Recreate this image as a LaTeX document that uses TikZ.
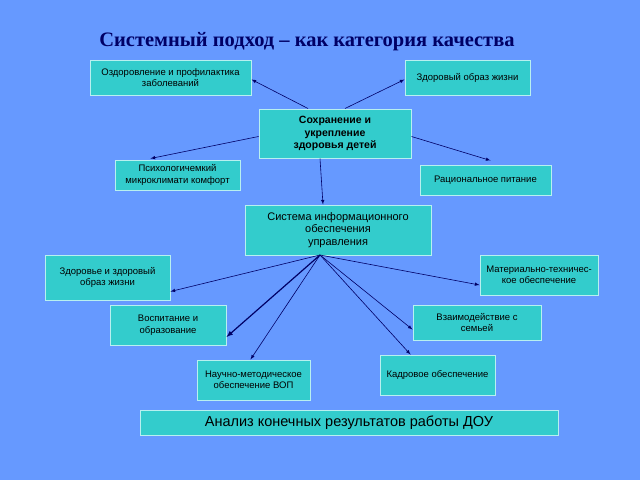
\documentclass[tikz,border=0pt]{standalone}
\usepackage{fontspec}
\setmainfont{Liberation Sans}
\newfontfamily\titlefont{Liberation Serif}
\definecolor{bg}{HTML}{6699FF}
\definecolor{boxc}{HTML}{33CCCC}
\definecolor{edgec}{HTML}{B8F0F0}
\definecolor{navy}{HTML}{000066}
\begin{document}
\begin{tikzpicture}[x=1pt,y=-1pt,
  bx/.style={draw=edgec,line width=1pt,fill=boxc,inner sep=1pt,align=center,font=\fontsize{9.5}{11.5}\selectfont},
  ar/.style={draw=navy,-latex,line width=0.6pt}]
\fill[bg] (0,0) rectangle (640,480);
\useasboundingbox (0,0) rectangle (640,480);
\node[font=\titlefont\bfseries\fontsize{20.5}{22}\selectfont,text=navy] (T) at (307,42) {Системный подход – как категория качества};
\node[bx,minimum width=161,minimum height=35] (A) at (170.5,77.5) {Оздоровление и профилактика\\заболеваний};
\node[bx,minimum width=125,minimum height=35] (B) at (467.5,77.5) {Здоровый образ жизни};
\node[bx,minimum width=152,minimum height=49,font=\bfseries\fontsize{10.5}{12.5}\selectfont] (C) at (335,133.5) {Сохранение и\\укрепление\\здоровья детей};
\node[bx,minimum width=125,minimum height=30] (D) at (177.5,175) {Психологичемкий\\микроклимати комфорт};
\node[bx,minimum width=131,minimum height=30] (E) at (485.5,180) {Рациональное питание};
\node[bx,minimum width=186,minimum height=50,font=\fontsize{11}{12.5}\selectfont] (F) at (338,230) {Система информационного\\обеспечения\\управления};
\node[bx,minimum width=125,minimum height=45] (G) at (107.5,277.5) {Здоровье и здоровый\\образ жизни};
\node[bx,minimum width=118,minimum height=40] (H) at (539,275) {Материально-техничес-\\кое обеспечение};
\node[bx,minimum width=116,minimum height=40] (I) at (168,325) {Воспитание и\\образование};
\node[bx,minimum width=128,minimum height=35] (J) at (477,322.5) {Взаимодействие с\\семьей};
\node[bx,minimum width=113,minimum height=40] (K) at (253.5,380) {Научно-методическое\\обеспечение ВОП};
\node[bx,minimum width=115,minimum height=40] (L) at (437.5,375) {Кадровое обеспечение};
\node[bx,minimum width=418,minimum height=25,font=\fontsize{14.5}{16}\selectfont] (M) at (349,422.5) {Анализ конечных результатов работы ДОУ};
\coordinate (Fb) at (320,255);
\draw[ar] ([xshift=-27pt]C.north) -- ([yshift=-2pt]A.east);
\draw[ar] ([xshift=10pt]C.north) -- ([yshift=-2pt]B.west);
\draw[ar] ([yshift=-3pt]C.west) -- ([xshift=-27pt,yshift=1pt]D.north);
\draw[ar] ([yshift=-3pt]C.east) -- ([xshift=5pt,yshift=4pt]E.north);
\draw[ar] ([xshift=-15pt]C.south) -- ([xshift=-15pt]F.north);
\draw[ar] (Fb) -- ([yshift=-14pt]G.east);
\draw[ar,line width=1.2pt] (Fb) -- ([yshift=-12pt]I.east);
\draw[ar] (Fb) -- ([xshift=-3pt]K.north);
\draw[ar] (Fb) -- ([xshift=-27pt]L.north);
\draw[ar] (Fb) -- ([yshift=-7pt]J.west);
\draw[ar] (Fb) -- ([yshift=-10pt]H.west);
\end{tikzpicture}
\end{document}
